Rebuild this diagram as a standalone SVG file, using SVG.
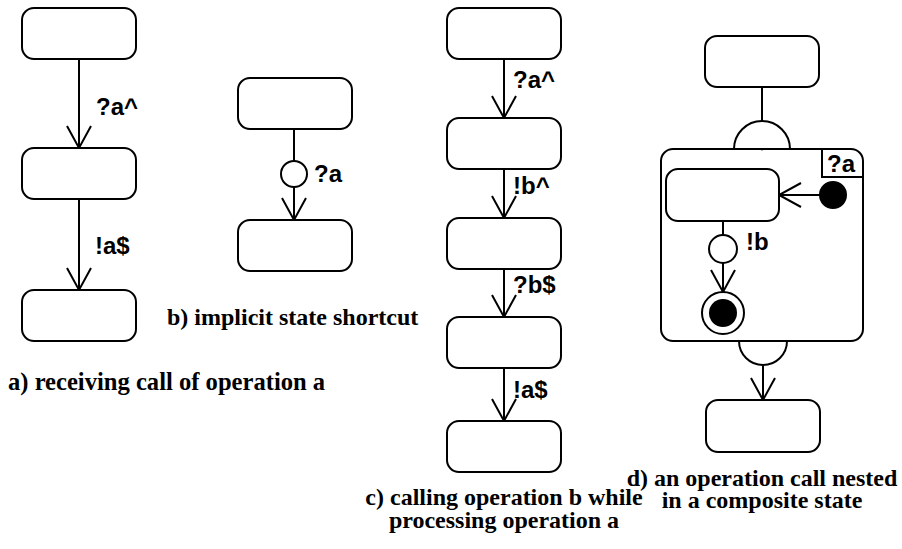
<svg xmlns="http://www.w3.org/2000/svg" width="902" height="549" viewBox="0 0 902 549">
  <style>
    .state { fill: #fff; stroke: #000; stroke-width: 2; }
    .edge { fill: none; stroke: #000; stroke-width: 2; }
    .arrow { fill: none; stroke: #000; stroke-width: 2; marker-end: url(#open); }
    .dot { fill: #000; stroke: #000; stroke-width: 2; }
    .lbl { font-family: "Liberation Sans", Arial, sans-serif; font-weight: bold; font-size: 24px; fill: #000; }
    .cap { font-family: "Liberation Serif", "Times New Roman", serif; font-weight: bold; font-size: 24px; fill: #000; }
  </style>
  <defs>
    <marker id="open" viewBox="-24 -14 26 28" refX="0" refY="0" markerWidth="26" markerHeight="28" markerUnits="userSpaceOnUse" orient="auto" overflow="visible">
      <path d="M-22,-12 L0,0 L-22,12" fill="none" stroke="#000" stroke-width="2"/>
    </marker>
  </defs>
  <rect width="902" height="549" fill="#fff"/>

  <!-- connectors -->
  <g id="connectors">
    <!-- a -->
    <line class="arrow" x1="79" y1="59" x2="79" y2="148"/>
    <line class="arrow" x1="79" y1="199" x2="79" y2="290"/>
    <!-- b -->
    <line class="edge" x1="294" y1="129" x2="294" y2="161"/>
    <line class="arrow" x1="294" y1="187" x2="294" y2="220"/>
    <!-- c -->
    <line class="arrow" x1="504" y1="59" x2="504" y2="118"/>
    <line class="arrow" x1="504" y1="169" x2="504" y2="218"/>
    <line class="arrow" x1="504" y1="269" x2="504" y2="317"/>
    <line class="arrow" x1="504" y1="368" x2="504" y2="421"/>
    <!-- d -->
    <line class="arrow" x1="762" y1="87" x2="762" y2="149"/>
    <line class="arrow" x1="820" y1="195" x2="779" y2="195"/>
    <line class="edge" x1="723" y1="221" x2="723" y2="235"/>
    <line class="arrow" x1="723" y1="263" x2="723" y2="292"/>
    <line class="arrow" x1="763" y1="365" x2="763" y2="400"/>
  </g>

  <!-- a) receiving call of operation a -->
  <g id="a1"><rect class="state" x="22" y="8" width="114" height="51" rx="12"/></g>
  <g id="a2"><rect class="state" x="22" y="148" width="114" height="51" rx="12"/></g>
  <g id="a3"><rect class="state" x="22" y="290" width="114" height="51" rx="12"/></g>
  <text class="lbl" x="96" y="115">?a^</text>
  <text class="lbl" x="95" y="254">!a$</text>
  <text class="cap" x="8" y="390" style="font-size:24.6px">a) receiving call of operation a</text>

  <!-- b) implicit state shortcut -->
  <g id="b1"><rect class="state" x="238" y="78" width="114" height="51" rx="12"/></g>
  <g id="b-junction"><circle class="state" cx="294" cy="174" r="13"/></g>
  <g id="b2"><rect class="state" x="238" y="220" width="114" height="51" rx="12"/></g>
  <text class="lbl" x="314" y="182">?a</text>
  <text class="cap" x="167" y="325">b) implicit state shortcut</text>

  <!-- c) calling operation b while processing operation a -->
  <g id="c1"><rect class="state" x="447" y="8" width="114" height="51" rx="12"/></g>
  <g id="c2"><rect class="state" x="447" y="118" width="114" height="51" rx="12"/></g>
  <g id="c3"><rect class="state" x="447" y="218" width="114" height="51" rx="12"/></g>
  <g id="c4"><rect class="state" x="447" y="317" width="114" height="51" rx="12"/></g>
  <g id="c5"><rect class="state" x="447" y="421" width="114" height="51" rx="12"/></g>
  <text class="lbl" x="513" y="88">?a^</text>
  <text class="lbl" x="513" y="194">!b^</text>
  <text class="lbl" x="513" y="293">?b$</text>
  <text class="lbl" x="513" y="398">!a$</text>
  <text class="cap" text-anchor="middle" x="504" y="505">c) calling operation b while</text>
  <text class="cap" text-anchor="middle" x="504" y="528">processing operation a</text>

  <!-- d) an operation call nested in a composite state -->
  <g id="d1"><rect class="state" x="705" y="36" width="114" height="51" rx="12"/></g>
  <g id="d-composite">
    <path class="state" d="M734,149 A28,28 0 0 1 790,149"/>
    <path class="state" d="M739,341 A24,24 0 0 0 787,341"/>
    <rect class="edge" x="661" y="149" width="202" height="192" rx="12"/>
    <path class="edge" d="M822,149 V177 H863"/>
    <text class="lbl" x="827" y="172">?a</text>
  </g>
  <g id="d-inner"><rect class="state" x="666" y="169" width="113" height="52" rx="12"/></g>
  <g id="d-initial"><circle class="dot" cx="833" cy="195" r="13"/></g>
  <g id="d-junction"><circle class="state" cx="723" cy="249" r="14"/></g>
  <text class="lbl" x="746" y="250">!b</text>
  <g id="d-final">
    <circle class="state" cx="723" cy="313" r="21"/>
    <circle fill="#000" cx="723" cy="313" r="14"/>
  </g>
  <g id="d2"><rect class="state" x="706" y="400" width="114" height="52" rx="12"/></g>
  <text class="cap" text-anchor="middle" x="762" y="486">d) an operation call nested</text>
  <text class="cap" text-anchor="middle" x="762" y="508">in a composite state</text>
</svg>
